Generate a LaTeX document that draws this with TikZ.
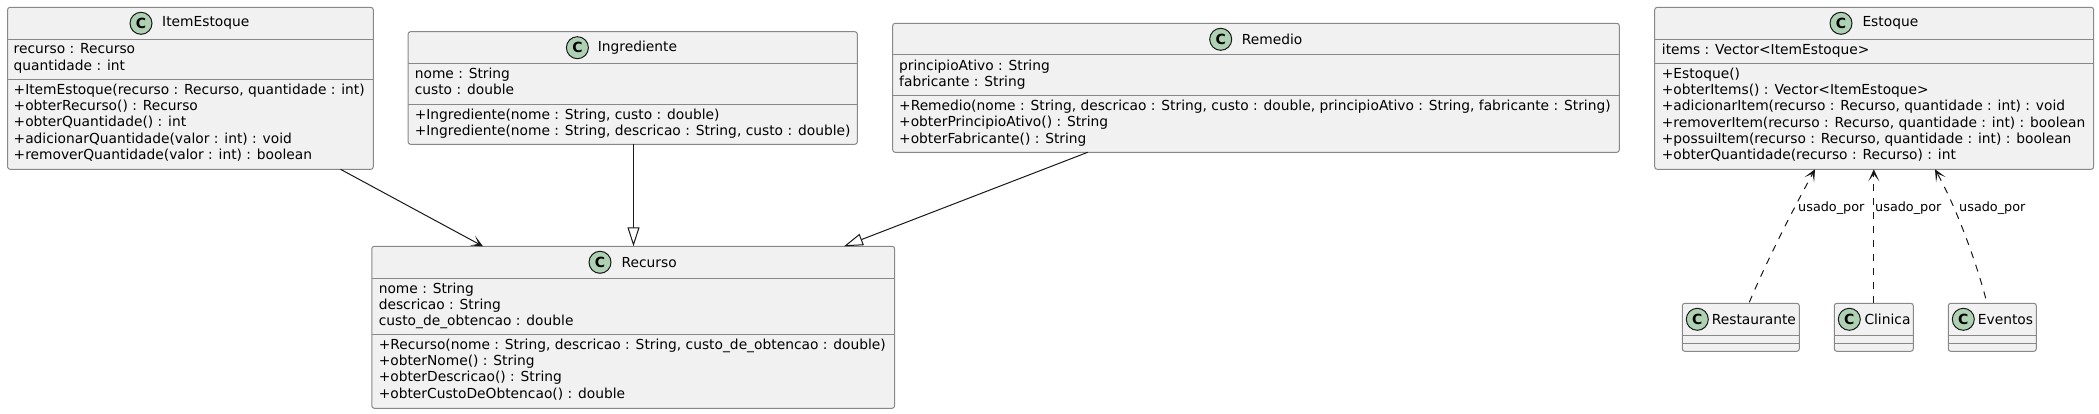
\documentclass[tikz,border=0pt]{standalone}
\usepackage{fontspec}
\setmainfont{DejaVu Sans}
\usetikzlibrary{arrows.meta}
\definecolor{boxfill}{HTML}{F1F1F1}
\definecolor{boxline}{HTML}{888888}
\definecolor{spotfill}{HTML}{ADD1B2}
\definecolor{edgeline}{HTML}{181818}
\tikzset{
  classbox/.style={draw=boxline,fill=boxfill,rounded corners=2.5pt,line width=1pt,outer sep=0pt,inner sep=0pt},
  sepline/.style={draw=boxline,line width=1pt},
  spot/.style={circle,draw=edgeline,fill=spotfill,line width=1pt,minimum size=22pt,inner sep=0pt,font=\fontsize{14pt}{14pt}\selectfont\bfseries},
  title/.style={anchor=west,inner sep=0pt,font=\fontsize{13.8pt}{16.4pt}\selectfont},
  members/.style={anchor=north west,align=left,inner sep=0pt,font=\fontsize{13.8pt}{16.3pt}\selectfont},
  inherit/.style={edgeline,line width=1pt,-{Triangle[open,fill=white,length=19pt,width=12pt]}},
  assoc/.style={edgeline,line width=1pt,-{Stealth[length=12pt,width=11pt,inset=7pt]}},
  usedby/.style={edgeline,line width=1pt,dash pattern=on 7pt off 7pt,-{Stealth[length=12pt,width=11pt,inset=7pt]}},
  edgelabel/.style={anchor=west,inner sep=0pt,font=\fontsize{12.8pt}{15pt}\selectfont}
}
\begin{document}
\begin{tikzpicture}[x=1pt,y=-1pt]
  \useasboundingbox (0,0) rectangle (2099,414);
  % ItemEstoque
  \node [classbox,minimum width=365.7pt,minimum height=162pt] (item) at (190.45,88.3) {};
  \draw [sepline] (7.6,39.3) -- (373.3,39.3) (7.6,79.3) -- (373.3,79.3);
  \node [spot] (itemspot) at (141,23.3) {C};
  \node [title] (itemtitle) at (162,23.3) {ItemEstoque};
  \node [members] (itemattrs) at (13.5,43.5) {recurso : Recurso\\quantidade : int};
  \node [members] (itemops) at (13.5,83.5) {+ItemEstoque(recurso : Recurso, quantidade : int)\\+obterRecurso() : Recurso\\+obterQuantidade() : int\\+adicionarQuantidade(valor : int) : void\\+removerQuantidade(valor : int) : boolean};
  % Ingrediente
  \node [classbox,minimum width=449.3pt,minimum height=112.6pt] (ingr) at (632.65,88) {};
  \draw [sepline] (408,63.3) -- (857.3,63.3) (408,104.3) -- (857.3,104.3);
  \node [spot] (ingrspot) at (577.4,47.7) {C};
  \node [title] (ingrtitle) at (597.6,47.7) {Ingrediente};
  \node [members] (ingrattrs) at (414.6,67.5) {nome : String\\custo : double};
  \node [members] (ingrops) at (414.6,108.5) {+Ingrediente(nome : String, custo : double)\\+Ingrediente(nome : String, descricao : String, custo : double)};
  % Remedio
  \node [classbox,minimum width=726.6pt,minimum height=129pt] (rem) at (1256,87.8) {};
  \draw [sepline] (892.7,55) -- (1619.3,55) (892.7,95.7) -- (1619.3,95.7);
  \node [spot] (remspot) at (1220.7,39.3) {C};
  \node [title] (remtitle) at (1241.7,39.3) {Remedio};
  \node [members] (remattrs) at (899,59.5) {principioAtivo : String\\fabricante : String};
  \node [members] (remops) at (899,100) {+Remedio(nome : String, descricao : String, custo : double, principioAtivo : String, fabricante : String)\\+obterPrincipioAtivo() : String\\+obterFabricante() : String};
  % Recurso
  \node [classbox,minimum width=522.8pt,minimum height=162pt] (rec) at (633.2,327.3) {};
  \draw [sepline] (371.8,278.3) -- (894.6,278.3) (371.8,334.3) -- (894.6,334.3);
  \node [spot] (recspot) at (600,262.3) {C};
  \node [title] (rectitle) at (621.4,262.3) {Recurso};
  \node [members] (recattrs) at (378.6,282.5) {nome : String\\descricao : String\\custo\_de\_obtencao : double};
  \node [members] (recops) at (378.6,338.5) {+Recurso(nome : String, descricao : String, custo\_de\_obtencao : double)\\+obterNome() : String\\+obterDescricao() : String\\+obterCustoDeObtencao() : double};
  % Estoque
  \node [classbox,minimum width=439pt,minimum height=162pt] (est) at (1874.2,88.3) {};
  \draw [sepline] (1654.7,39.3) -- (2093.7,39.3) (1654.7,63.3) -- (2093.7,63.3);
  \node [spot] (estspot) at (1841,23.3) {C};
  \node [title] (esttitle) at (1862.3,23.3) {Estoque};
  \node [members] (estattrs) at (1661.7,43.5) {items : Vector<ItemEstoque>};
  \node [members] (estops) at (1661.7,67.5) {+Estoque()\\+obterItems() : Vector<ItemEstoque>\\+adicionarItem(recurso : Recurso, quantidade : int) : void\\+removerItem(recurso : Recurso, quantidade : int) : boolean\\+possuiItem(recurso : Recurso, quantidade : int) : boolean\\+obterQuantidade(recurso : Recurso) : int};
  % Restaurante, Clinica, Eventos
  \node [classbox,minimum width=117pt,minimum height=48pt] (rest) at (1740.8,327.3) {};
  \draw [sepline] (1682.3,335.3) -- (1799.3,335.3) (1682.3,343.3) -- (1799.3,343.3);
  \node [spot] (restspot) at (1697.3,319.3) {C};
  \node [title] (resttitle) at (1711.7,319.3) {Restaurante};
  \node [classbox,minimum width=79pt,minimum height=48pt] (clin) at (1873.8,327.3) {};
  \draw [sepline] (1834.3,335.3) -- (1913.3,335.3) (1834.3,343.3) -- (1913.3,343.3);
  \node [spot] (clinspot) at (1849.3,319.3) {C};
  \node [title] (clintitle) at (1864.3,319.3) {Clinica};
  \node [classbox,minimum width=88pt,minimum height=48pt] (evt) at (1992.3,327.3) {};
  \draw [sepline] (1948.3,335.3) -- (2036.3,335.3) (1948.3,343.3) -- (2036.3,343.3);
  \node [spot] (evtspot) at (1963.3,319.3) {C};
  \node [title] (evttitle) at (1977.7,319.3) {Eventos};
  % edges
  \draw [assoc] ([xshift=-32.8pt]item.south east) -- ([xshift=-150.2pt]rec.north);
  \draw [inherit] ([xshift=.3pt]rec.north |- ingr.south) -- ([xshift=.3pt]rec.north);
  \draw [inherit] ([xshift=-168.3pt]rem.south) -- ([xshift=210.8pt]rec.north);
  \draw [usedby] ([xshift=8.5pt,yshift=1pt]rest.north) .. controls (1765,265) and (1790,215) .. ([xshift=-59.2pt]est.south);
  \draw [usedby] (clin.north) -- (clin.north |- est.south);
  \draw [usedby] ([xshift=-6.6pt,yshift=5pt]evt.north) .. controls (1975,258) and (1955,205) .. ([xshift=60.8pt]est.south);
  % labels
  \node [edgelabel] (lbla) at (1798,207.7) {usado\_por};
  \node [edgelabel] (lblb) at (1875,207.7) {usado\_por};
  \node [edgelabel] (lblc) at (1959,207.7) {usado\_por};
\end{tikzpicture}
\end{document}
